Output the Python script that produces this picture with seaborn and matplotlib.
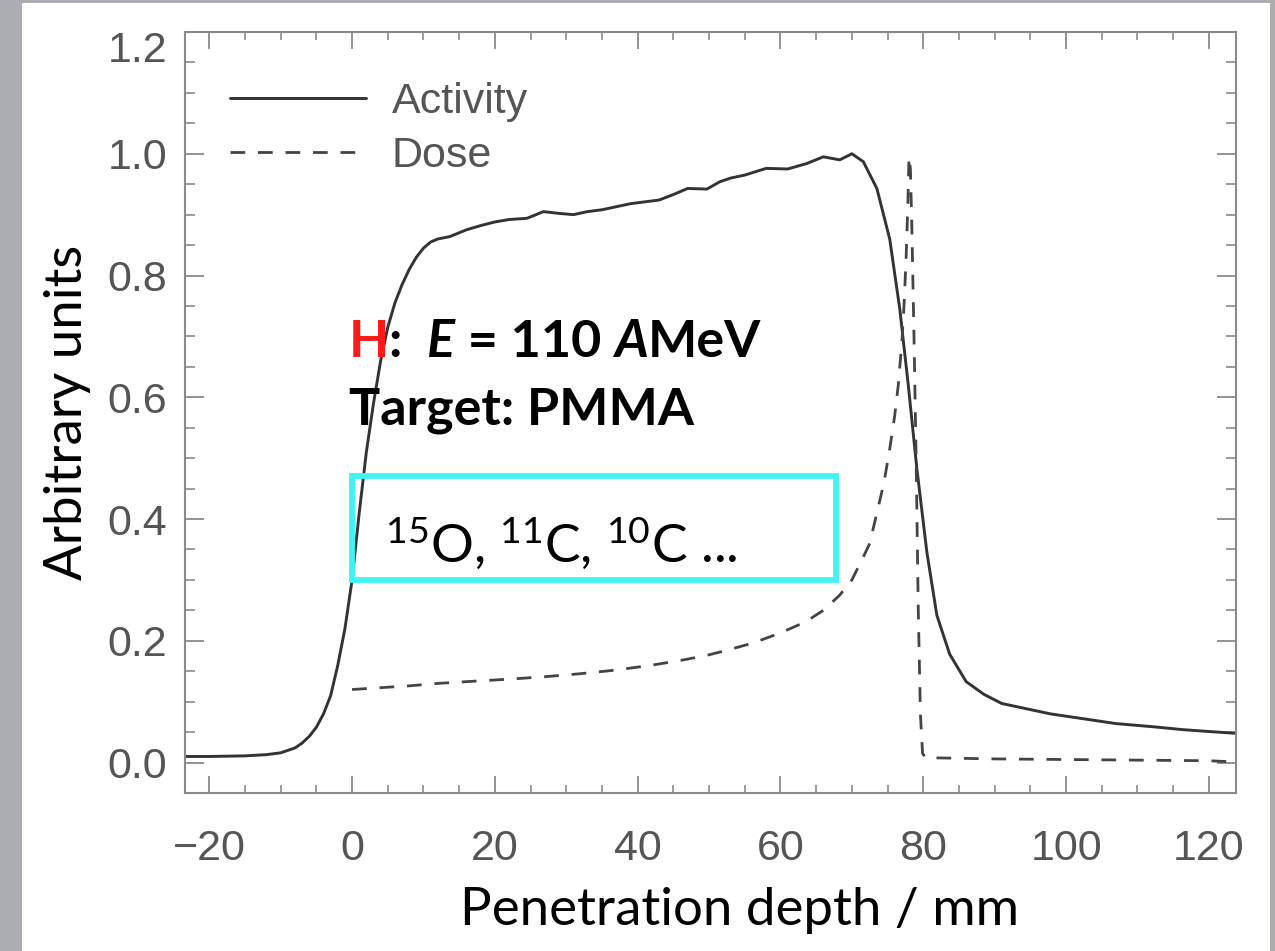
import matplotlib
matplotlib.use("Agg")
import matplotlib.pyplot as plt
import matplotlib.transforms as mtransforms
from matplotlib.patches import Rectangle
import seaborn as sns
import pandas as pd
import numpy as np

# ─────────────────────────────────────────────
# DATA
# ─────────────────────────────────────────────
act_depth = [-23.4, -20, -15, -12, -10, -8, -7, -6, -5, -4, -3, -2, -1, 0,
             1, 2, 3, 4, 5, 6, 7, 8, 9, 10, 11, 12, 13.7, 16, 18, 20, 22,
             24.5, 26.8, 29, 31, 33, 35, 37, 39, 41, 43, 45, 47, 49.7, 51.5,
             53, 55, 58, 61, 63.7, 66, 68.3, 70, 71.6, 73.5, 75.3, 76.7, 77.9,
             79.1, 80.5, 81.9, 83.7, 86, 88.5, 91, 93, 97.8, 102.4, 107, 112,
             116.4, 120, 123.8]
act_value = [0.010, 0.010, 0.011, 0.013, 0.016, 0.024, 0.032, 0.043, 0.058,
             0.080, 0.110, 0.160, 0.220, 0.300, 0.410, 0.510, 0.590, 0.660,
             0.715, 0.755, 0.785, 0.810, 0.830, 0.845, 0.855, 0.860, 0.864,
             0.875, 0.882, 0.888, 0.892, 0.894, 0.905, 0.902, 0.900, 0.905,
             0.908, 0.913, 0.918, 0.921, 0.924, 0.933, 0.943, 0.942, 0.954,
             0.960, 0.965, 0.976, 0.975, 0.984, 0.995, 0.990, 1.000, 0.987,
             0.943, 0.860, 0.746, 0.620, 0.483, 0.346, 0.242, 0.178, 0.133,
             0.112, 0.097, 0.092, 0.080, 0.072, 0.064, 0.059, 0.054, 0.051,
             0.048]

dose_depth = [0, 4, 8, 12, 17.6, 22, 27, 32, 37, 42, 46.6, 50, 53, 56.3, 60,
              63.5, 66, 68.3, 70, 71.5, 72.5, 73.5, 74.5, 75.3, 76, 76.5, 77,
              77.3, 77.6, 77.85, 78.0, 78.2, 78.4, 78.7, 79.0, 79.3, 79.6,
              79.9, 80.3, 90, 100, 110, 120, 123.8]
dose_value = [0.120, 0.123, 0.126, 0.130, 0.134, 0.137, 0.141, 0.146, 0.152,
              0.160, 0.169, 0.177, 0.186, 0.197, 0.213, 0.231, 0.250, 0.275,
              0.300, 0.335, 0.360, 0.410, 0.460, 0.515, 0.570, 0.620, 0.690,
              0.750, 0.830, 0.920, 0.995, 0.975, 0.880, 0.700, 0.500, 0.250,
              0.080, 0.015, 0.008, 0.006, 0.005, 0.004, 0.003, 0.001]

x_ticks = [-20, 0, 20, 40, 60, 80, 100, 120]
y_ticks = [0.0, 0.2, 0.4, 0.6, 0.8, 1.0, 1.2]
y_tick_labels = ["0.0", "0.2", "0.4", "0.6", "0.8", "1.0", "1.2"]

activity = pd.DataFrame({"depth": act_depth, "value": act_value})
dose = pd.DataFrame({"depth": dose_depth, "value": dose_value})

# ─────────────────────────────────────────────
# STYLE
# ─────────────────────────────────────────────
sns.set_style("white")
plt.rcParams["font.family"] = ["Liberation Sans", "DejaVu Sans"]
plt.rcParams["mathtext.fontset"] = "custom"
plt.rcParams["mathtext.rm"] = "Lato"
plt.rcParams["mathtext.it"] = "Lato:italic"

GRAY_TXT = "#555555"
AXIS_C = "#8a8a8a"
LABEL_FONT = ["Lato", "DejaVu Sans"]

fig = plt.figure(figsize=(12.75, 9.51), dpi=100, facecolor="#acadb3")
fig.patches.append(Rectangle((22 / 1275, 0), (1270 - 22) / 1275, (951 - 3) / 951,
                             transform=fig.transFigure, facecolor="white",
                             edgecolor="none", zorder=-10))
ax = fig.add_axes([185 / 1275, 1 - 793 / 951, (1236 - 185) / 1275, (793 - 32) / 951])
ax.set_facecolor("white")

sns.lineplot(data=activity, x="depth", y="value", ax=ax, color="#333333",
             linewidth=2.1, label="Activity", sort=False, estimator=None)
sns.lineplot(data=dose, x="depth", y="value", ax=ax, color="#444444",
             linewidth=2.0, linestyle=(0, (5.3, 4.6)), label="Dose",
             sort=False, estimator=None)

ax.set_xlim(-23.4, 123.8)
ax.set_ylim(-0.05, 1.2)
ax.set_xticks(x_ticks)
ax.set_xticks(np.arange(-20, 125, 5), minor=True)
ax.set_yticks(y_ticks)
ax.set_yticklabels(y_tick_labels)
ax.set_yticks(np.arange(-0.05, 1.2, 0.05), minor=True)

for sp in ax.spines.values():
    sp.set_color(AXIS_C)
    sp.set_linewidth(1.5)

ax.tick_params(axis="both", which="both", direction="in", colors=AXIS_C,
               top=True, right=True, bottom=True, left=True,
               labelcolor=GRAY_TXT, labelsize=31)
ax.tick_params(axis="y", which="major", length=14, width=1.3, pad=13)
ax.tick_params(axis="y", which="minor", length=7, width=1.2)
ax.tick_params(axis="x", which="major", length=12, width=1.3, pad=26)
ax.tick_params(axis="x", which="minor", length=6, width=1.2)

# the top "1.2" label sits a little below its tick in the original
top_lab = ax.yaxis.get_major_ticks()[-1].label1
top_lab.set_transform(top_lab.get_transform() +
                      mtransforms.ScaledTranslation(0, -0.15, fig.dpi_scale_trans))

ax.set_ylabel("Arbitrary units", fontsize=38, family=LABEL_FONT, color="black",
              labelpad=12)
ax.set_xlabel("Penetration depth / mm", fontsize=38, family=LABEL_FONT, color="black")
ax.xaxis.set_label_coords(0.528, -0.124)

leg = ax.legend(loc="upper left", bbox_to_anchor=(0.043, 0.934), frameon=False,
                fontsize=31, handlelength=3.15, handletextpad=0.6, borderpad=0,
                borderaxespad=0, labelspacing=0.32, labelcolor=GRAY_TXT)

# ── annotation: beam / target ──
def chain_text(ax, x, y, pieces, size):
    t = ax.text(x, y, pieces[0][0], fontsize=size, family=LABEL_FONT,
                fontweight="bold", color=pieces[0][1], fontstyle=pieces[0][2],
                va="center", ha="left")
    for txt, col, style in pieces[1:]:
        t = ax.annotate(txt, xy=(1, 0), xycoords=t, fontsize=size,
                        family=LABEL_FONT, fontweight="bold", color=col,
                        fontstyle=style, va="bottom", ha="left")
    return t

chain_text(ax, -0.5, 0.69, [("H", "#ff1a1a", "normal"),
                            (":  ", "black", "normal"),
                            ("E", "black", "italic"),
                            (" = 110 ", "black", "normal"),
                            ("A", "black", "italic"),
                            ("MeV", "black", "normal")], 37.5)
ax.text(-0.5, 0.578, "Target: PMMA", fontsize=37.5, family=LABEL_FONT,
        fontweight="bold", color="black", va="center", ha="left")

ax.add_patch(Rectangle((0, 0.30), 67.8, 0.17, fill=False, edgecolor="#40f4f4",
                       linewidth=4.2, zorder=5))
ax.text(4.6, 0.36, r"$^{15}$O, $^{11}$C, $^{10}$C ...", fontsize=38.5,
        family=LABEL_FONT, color="black", va="center", ha="left", zorder=6)

fig.savefig("out.png", dpi=100, facecolor=fig.get_facecolor())
